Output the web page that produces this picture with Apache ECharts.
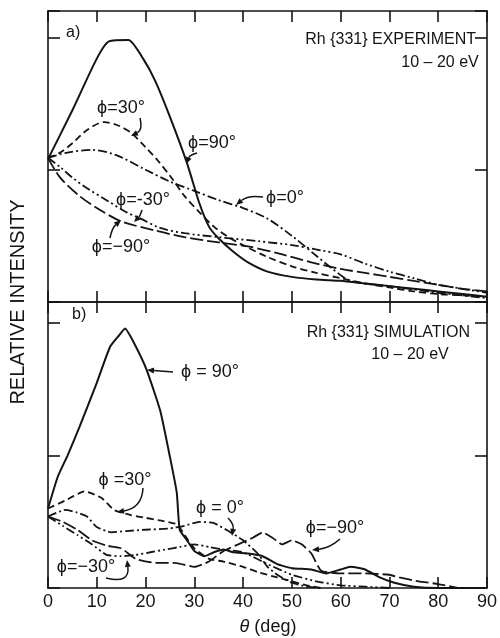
<!DOCTYPE html>
<html><head><meta charset="utf-8">
<script src="https://cdn.jsdelivr.net/npm/echarts@6/dist/echarts.min.js"></script>
<style>html,body{margin:0;padding:0;background:#fff}#c{width:500px;height:638px}</style>
</head><body><div id="c"></div>
<script>
// theta (deg) tick labels
const thetaTicks = [0,10,20,30,40,50,60,70,80,90];

// a) Experiment, [theta, relative intensity]
const expPhi90  = [[0,1.08],[5,1.45],[10,1.84],[12.5,1.97],[16.5,1.98],[19.5,1.84],[22,1.67],[25,1.40],[28.5,1.05],[31,0.75],[33,0.57],[35,0.48],[38,0.38],[41,0.30],[45,0.23],[50,0.19],[55,0.17],[60,0.16],[65,0.14],[70,0.12],[75,0.10],[80,0.08],[85,0.06],[90,0.04]];
const expPhi30  = [[0,1.09],[2.5,1.13],[5,1.20],[8,1.30],[11.5,1.36],[14,1.34],[17,1.28],[20,1.17],[22.5,1.07],[25.5,0.93],[28,0.80],[31,0.68],[34,0.57],[37,0.49],[40,0.43],[45,0.34],[50,0.27],[55,0.22],[60,0.18],[65,0.14],[70,0.11],[75,0.08],[80,0.06],[85,0.05],[90,0.04]];
const expPhi0   = [[0,1.09],[4,1.13],[9,1.15],[14,1.11],[20,1.00],[25,0.91],[30,0.84],[35,0.77],[40,0.71],[45,0.63],[50,0.50],[55,0.35],[58,0.26],[62,0.16],[70,0.12],[80,0.07],[90,0.03]];
const expPhiM30 = [[0,1.09],[2.5,1.02],[5,0.94],[8,0.86],[12,0.77],[16,0.68],[19,0.63],[23,0.56],[28,0.52],[35,0.49],[43,0.46],[50,0.43],[56,0.39],[60,0.36],[65,0.29],[70,0.23],[75,0.18],[80,0.13],[85,0.10],[90,0.07]];
const expPhiM90 = [[0,1.09],[2.5,0.94],[6.5,0.80],[10.5,0.70],[15,0.61],[22,0.54],[28,0.49],[35,0.45],[41,0.42],[47,0.37],[54,0.30],[60,0.25],[65,0.22],[70,0.19],[75,0.16],[80,0.13],[85,0.10],[90,0.08]];

// b) Simulation
const simPhi90  = [[0,0.60],[2,0.84],[4,1.00],[6.5,1.22],[10,1.55],[12.7,1.82],[14.4,1.90],[15.8,1.96],[17.5,1.86],[20.2,1.65],[23,1.34],[25,0.99],[26.4,0.72],[27,0.44],[28.5,0.36],[30,0.28],[32,0.24],[34,0.27],[36,0.29],[38,0.27],[41,0.26],[44,0.24],[47,0.18],[50,0.15],[54,0.14],[57,0.11],[60,0.14],[62,0.16],[65,0.14],[68,0.08],[71,0.04],[75,0.01],[80,0],[90,0]];
const simPhi30  = [[0,0.60],[3.5,0.66],[7.5,0.73],[11,0.68],[13.5,0.59],[17,0.55],[20,0.53],[23,0.51],[26.5,0.48],[28,0.40],[30,0.30],[33,0.22],[36,0.20],[40,0.16],[43,0.12],[47,0.08],[50,0.05],[53,0.02],[56,0]];
const simPhi0   = [[0,0.54],[3.5,0.59],[6,0.57],[8,0.54],[10,0.46],[13,0.42],[16,0.43],[20,0.44],[25,0.45],[28,0.47],[31,0.50],[34,0.49],[37,0.43],[40,0.36],[43,0.26],[45,0.16],[47,0.10],[50,0.04],[53,0.01],[56,0]];
const simPhiM30 = [[0,0.54],[3,0.47],[6,0.40],[9,0.33],[12,0.25],[15,0.24],[18,0.25],[21,0.27],[24,0.29],[27,0.31],[30,0.33],[33,0.31],[36,0.29],[40,0.27],[45,0.18],[50,0.10],[55,0.05],[60,0.02],[65,0.01],[70,0]];
const simPhiM90 = [[0,0.54],[3,0.50],[6,0.44],[9,0.36],[12,0.32],[15,0.30],[18,0.22],[22,0.19],[26,0.19],[30,0.16],[33,0.20],[36,0.28],[39,0.33],[42,0.38],[44,0.42],[46,0.38],[48,0.33],[50,0.36],[52,0.33],[54,0.26],[56,0.13],[60,0.11],[65,0.11],[70,0.10],[72,0.08],[76,0.05],[80,0.03],[84,0]];

const INK = '#141414';
const FONT = '"Liberation Sans", Arial, sans-serif';
const chart = echarts.init(document.getElementById('c'), null, {renderer:'canvas'});

function xAx(grid, pos, labels){
  return {type:'value', gridIndex:grid, position:pos, min:0, max:90, interval:10,
    axisLine:{show:true, onZero:false, lineStyle:{color:INK, width:1.6}},
    axisTick:{show:true, inside:true, length:11, lineStyle:{color:INK, width:1.6}},
    axisLabel:{show:labels, color:INK, fontSize:18, fontFamily:FONT, margin:5,
      formatter:v=> thetaTicks.includes(v) ? String(v) : ''},
    splitLine:{show:false}};
}
function yAx(grid, pos, max){
  return {type:'value', gridIndex:grid, position:pos, min:0, max:max, interval:1,
    axisLine:{show:true, onZero:false, lineStyle:{color:INK, width:1.6}},
    axisTick:{show:true, inside:true, length:12, lineStyle:{color:INK, width:1.6}},
    axisLabel:{show:false}, splitLine:{show:false}};
}
function ser(data, xi, yi, type, width, smooth){
  return {type:'line', data:data, xAxisIndex:xi, yAxisIndex:yi, showSymbol:false, symbol:'none',
    smooth:smooth, animation:false, lineStyle:{color:INK, width:width||1.8, type:type}};
}
const DASH=[7,4], DASHDOT=[9,3,2,3], DASHDOT2=[9,3,2,3,2,3], LONGDASH=[13,4];

const series = [
  ser(expPhi90,0,0,'solid',2,0.2), ser(expPhi30,0,0,DASH,1.8,0.3), ser(expPhi0,0,0,DASHDOT,1.8,0.3),
  ser(expPhiM30,0,0,DASHDOT2,1.8,0.3), ser(expPhiM90,0,0,LONGDASH,1.8,0.3),
  ser(simPhi90,3,2,'solid',2,0.15), ser(simPhi30,3,2,DASH,1.8,0.15), ser(simPhi0,3,2,DASHDOT,1.8,0.15),
  ser(simPhiM30,3,2,DASHDOT2,1.8,0.15), ser(simPhiM90,3,2,LONGDASH,1.8,0.15)
];

function txt(t, x, y, size, align, extra){
  return Object.assign({type:'text', x:x, y:y, silent:true,
    style:{text:t, font:(size||17)+'px '+FONT, fill:INK, textAlign:align||'center', align:align||'center',
      textVerticalAlign:'middle', verticalAlign:'middle'}}, extra||{});
}
function arrow(x1,y1,cx,cy,x2,y2){
  const dx=x2-cx, dy=y2-cy, L=Math.hypot(dx,dy)||1, ux=dx/L, uy=dy/L;
  const hl=7, hw=3;
  const bx=x2-ux*hl, by=y2-uy*hl;
  return [
    {type:'bezierCurve', silent:true, shape:{x1:x1,y1:y1,x2:bx,y2:by,cpx1:cx,cpy1:cy},
      style:{stroke:INK, lineWidth:1.5, fill:null}},
    {type:'polygon', silent:true, shape:{points:[[x2,y2],[bx-uy*hw,by+ux*hw],[bx+uy*hw,by-ux*hw]]},
      style:{fill:INK}}
  ];
}

const graphic = [
  txt('RELATIVE INTENSITY', 18, 302, 20, 'center', {rotation:Math.PI/2}),
  txt('a)', 66, 33, 16, 'left'),
  txt('Rh {331} EXPERIMENT', 476, 40, 16, 'right'),
  txt('10 – 20 eV', 440, 63, 16, 'center'),
  txt('ϕ=30°', 121, 108, 18), ...arrow(140,118,143,130,131,136),
  txt('ϕ=90°', 212, 143, 18), ...arrow(197,153,190,155,186,164),
  txt('ϕ=0°', 285, 198, 18), ...arrow(263,197,248,195,236,205),
  txt('ϕ=-30°', 143, 200, 18), ...arrow(142,210,140,216,134,222),
  txt('ϕ=−90°', 121, 247, 18), ...arrow(110,238,112,228,121,220),
  txt('b)', 72, 315, 16, 'left'),
  txt('Rh {331} SIMULATION', 470, 333, 16, 'right'),
  txt('10 – 20 eV', 410, 355, 16, 'center'),
  txt('ϕ = 90°', 210, 372, 18), ...arrow(173,372,160,371,147,370),
  txt('ϕ =30°', 125, 480, 18), ...arrow(143,488,142,508,117,512),
  txt('ϕ = 0°', 220, 508, 18), ...arrow(228,518,234,524,232,536),
  txt('ϕ=−90°', 335, 528, 18), ...arrow(340,539,330,548,312,550),
  txt('ϕ=−30°', 86, 567, 18), ...arrow(106,578,130,584,127,560),
  {type:'text', x:268, y:627, silent:true, style:{
    rich:{i:{fontStyle:'italic', fontSize:18, fontFamily:FONT, fill:INK}, n:{fontSize:18, fontFamily:FONT, fill:INK}},
    text:'{i|θ}{n| (deg)}', textAlign:'center', align:'center', textVerticalAlign:'middle', verticalAlign:'middle', fill:INK, font:'18px '+FONT}}
];

chart.setOption({
  backgroundColor:'#fff',
  animation:false,
  grid:[{left:48, right:13, top:11, height:291},{left:48, right:13, top:302, height:286}],
  xAxis:[xAx(0,'bottom',false), xAx(0,'top',false), xAx(1,'top',false), xAx(1,'bottom',true)],
  yAxis:[yAx(0,'left',2.2), yAx(0,'right',2.2), yAx(1,'left',2.16), yAx(1,'right',2.16)],
  series:series,
  graphic:graphic
});
</script></body></html>
